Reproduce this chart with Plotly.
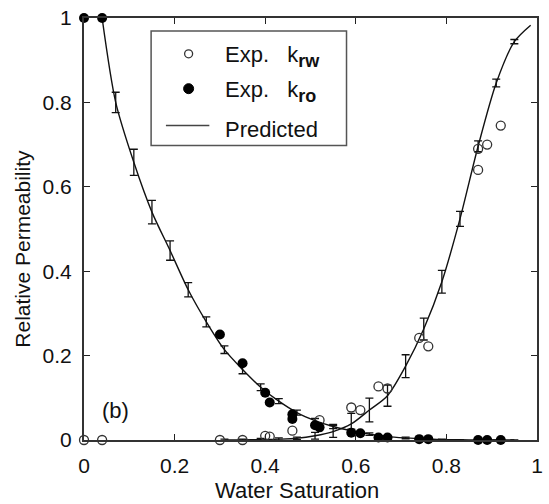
import plotly.graph_objects as go

# ---- Experimental data ----
sw_exp_rw = [0.0, 0.04, 0.30, 0.35, 0.40, 0.41, 0.46, 0.52, 0.59, 0.61, 0.65, 0.67, 0.74, 0.76, 0.87, 0.87, 0.89, 0.92]
krw_exp = [0.0, 0.0, 0.0, 0.0, 0.010, 0.008, 0.022, 0.047, 0.077, 0.071, 0.127, 0.122, 0.242, 0.222, 0.690, 0.640, 0.700, 0.745]

sw_exp_ro = [0.0, 0.04, 0.30, 0.35, 0.40, 0.41, 0.46, 0.46, 0.51, 0.52, 0.59, 0.61, 0.65, 0.67, 0.74, 0.76, 0.87, 0.89, 0.92]
kro_exp = [1.0, 1.0, 0.250, 0.182, 0.112, 0.089, 0.061, 0.050, 0.035, 0.030, 0.017, 0.016, 0.006, 0.006, 0.002, 0.002, 0.0, 0.0, 0.0]

# ---- Predicted (with error bars) ----
sw_pred_ro = [0.07, 0.11, 0.15, 0.19, 0.23, 0.27, 0.31, 0.35, 0.39, 0.43, 0.47, 0.51, 0.55, 0.59, 0.63, 0.67, 0.71, 0.75, 0.79, 0.83, 0.87, 0.91, 0.95]
kro_pred = [0.800, 0.658, 0.540, 0.449, 0.356, 0.280, 0.214, 0.167, 0.125, 0.092, 0.065, 0.046, 0.032, 0.022, 0.014, 0.008, 0.005, 0.003, 0.001, 0.0005, 0.0, 0.0, 0.0]
kro_err = [0.024, 0.031, 0.028, 0.023, 0.017, 0.012, 0.009, 0.010, 0.008, 0.006, 0.006, 0.005, 0.005, 0.004, 0.003, 0.002, 0.002, 0.001, 0.001, 0.0, 0.0, 0.0, 0.0]

sw_pred_rw = [0.31, 0.35, 0.39, 0.43, 0.47, 0.51, 0.55, 0.59, 0.63, 0.67, 0.71, 0.75, 0.79, 0.83, 0.87, 0.91, 0.95]
krw_pred = [0.0, 0.0, 0.001, 0.002, 0.004, 0.010, 0.020, 0.038, 0.071, 0.105, 0.175, 0.263, 0.375, 0.524, 0.696, 0.846, 0.944]
krw_err = [0.002, 0.002, 0.003, 0.003, 0.003, 0.008, 0.014, 0.025, 0.028, 0.025, 0.027, 0.026, 0.027, 0.018, 0.013, 0.009, 0.005]

# curve end points
kro_curve_start = (0.04, 1.0)
krw_curve_end = (0.986, 0.983)

FONT = "Liberation Sans, Arial, sans-serif"
fig = go.Figure()

# predicted curves
fig.add_trace(go.Scatter(
    x=[kro_curve_start[0]] + sw_pred_ro, y=[kro_curve_start[1]] + kro_pred,
    mode="lines", line=dict(color="#111", width=1.4, shape="spline", smoothing=0.8),
    showlegend=False, cliponaxis=False))
fig.add_trace(go.Scatter(
    x=sw_pred_rw + [krw_curve_end[0]], y=krw_pred + [krw_curve_end[1]],
    mode="lines", line=dict(color="#111", width=1.4, shape="spline", smoothing=0.8),
    showlegend=False, cliponaxis=False))

# error bars
for xs, ys, es in [(sw_pred_ro, kro_pred, kro_err), (sw_pred_rw, krw_pred, krw_err)]:
    fig.add_trace(go.Scatter(
        x=xs, y=ys, mode="markers", marker=dict(size=1, color="rgba(0,0,0,0)"),
        error_y=dict(type="data", array=es, visible=True, color="#111", thickness=1.3, width=4),
        showlegend=False, cliponaxis=False))

# experimental points
fig.add_trace(go.Scatter(
    x=sw_exp_rw, y=krw_exp, mode="markers",
    marker=dict(symbol="circle-open", size=9, color="#333", line=dict(width=1.3, color="#333")),
    showlegend=False, cliponaxis=False))
fig.add_trace(go.Scatter(
    x=sw_exp_ro, y=kro_exp, mode="markers",
    marker=dict(symbol="circle", size=10, color="black"),
    showlegend=False, cliponaxis=False))

ticks = [0, 0.2, 0.4, 0.6, 0.8, 1]
tick_text = ["0", "0.2", "0.4", "0.6", "0.8", "1"]
axis_common = dict(range=[0, 1], tickvals=ticks, ticktext=tick_text, ticks="inside", ticklen=6,
                   tickcolor="#222", tickwidth=1.3, showline=True, mirror="ticks", linecolor="#333",
                   linewidth=2, showgrid=False, zeroline=False,
                   tickfont=dict(family=FONT, size=21, color="#111"))
fig.update_xaxes(**axis_common, ticklabelstandoff=6)
fig.update_yaxes(**axis_common, ticklabelstandoff=6)

# manual legend (paper coords)
def px_x(p):
    return (p - 84) / 459.0

def px_y(p):
    return (440 - p) / 424.0

shapes = [
    dict(type="rect", xref="paper", yref="paper", x0=px_x(152), x1=px_x(350), y0=px_y(144), y1=px_y(29),
         line=dict(color="#555", width=1.5), fillcolor="white", layer="above"),
    dict(type="circle", xref="paper", yref="paper", xsizemode="pixel", ysizemode="pixel",
         xanchor=px_x(190), yanchor=px_y(52), x0=-4, x1=4, y0=-4, y1=4,
         line=dict(color="#333", width=1.3), layer="above"),
    dict(type="circle", xref="paper", yref="paper", xsizemode="pixel", ysizemode="pixel",
         xanchor=px_x(190), yanchor=px_y(87), x0=-5, x1=5, y0=-5, y1=5,
         line=dict(color="black", width=1), fillcolor="black", layer="above"),
    dict(type="line", xref="paper", yref="paper", x0=px_x(167), x1=px_x(211), y0=px_y(124), y1=px_y(124),
         line=dict(color="#444", width=1.5), layer="above"),
]

SUB = '<sub><span style="font-size:18px;font-weight:bold">{}</span></sub>'
annotations = [
    dict(text="Exp.   k" + SUB.format("rw"), xref="paper", yref="paper", x=px_x(225), y=px_y(55),
         xanchor="left", yanchor="middle", showarrow=False, font=dict(family=FONT, size=22, color="#111")),
    dict(text="Exp.   k" + SUB.format("ro"), xref="paper", yref="paper", x=px_x(225), y=px_y(90),
         xanchor="left", yanchor="middle", showarrow=False, font=dict(family=FONT, size=22, color="#111")),
    dict(text="Predicted", xref="paper", yref="paper", x=px_x(225), y=px_y(128),
         xanchor="left", yanchor="middle", showarrow=False, font=dict(family=FONT, size=22, color="#111")),
    dict(text="(b)", xref="paper", yref="paper", x=px_x(116), y=px_y(410),
         xanchor="center", yanchor="middle", showarrow=False, font=dict(family=FONT, size=22, color="#111")),
    dict(text="Water Saturation", xref="paper", yref="paper", x=px_x(300), y=px_y(491),
         xanchor="center", yanchor="middle", showarrow=False, font=dict(family=FONT, size=22, color="#111")),
    dict(text="Relative Permeability", xref="paper", yref="paper", x=px_x(22), y=px_y(248),
         xanchor="center", yanchor="middle", textangle=-90, showarrow=False,
         font=dict(family=FONT, size=21, color="#111")),
]

fig.update_layout(
    width=549, height=504,
    margin=dict(l=84, r=6, t=16, b=64),
    paper_bgcolor="white", plot_bgcolor="white",
    shapes=shapes, annotations=annotations,
    showlegend=False,
    font=dict(family=FONT, size=20, color="#111"),
)

fig.write_html("out.html")
